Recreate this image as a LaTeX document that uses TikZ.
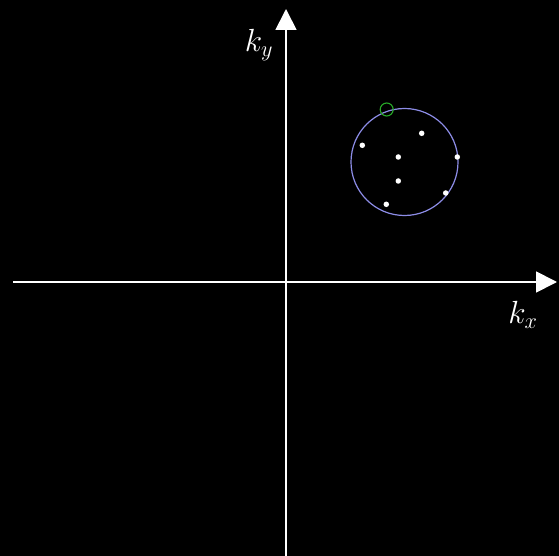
\documentclass[tikz,border=0pt]{standalone}
\usepackage{graphicx}
\usetikzlibrary{arrows.meta}
\begin{document}
\begin{tikzpicture}[x=1bp,y=-1bp,
  axis/.style={draw=white,line width=1.8bp,-{Triangle[length=21bp,width=21bp]}},
  ptdot/.style={circle,fill=white,inner sep=0pt,minimum size=5.5bp},
  lbl/.style={text=white,font=\huge,inner sep=0pt}]
\fill[black] (0,0) rectangle (559,556);
\useasboundingbox (0,0) rectangle (559,556);
\coordinate (xs) at (13,282);
\coordinate (xe) at (557,282);
\coordinate (ys) at (286,556);
\coordinate (ye) at (286,9);
\draw[axis] (xs) -- (xe);
\draw[axis] (ys) -- (ye);
\node[lbl] (kx) at (523,315) {\scalebox{1.55}{$k_x$}};
\node[lbl] (ky) at (259,45) {\scalebox{1.55}{$k_y$}};
\node[circle,draw={rgb,255:red,140;green,140;blue,230},line width=1.2bp,minimum size=107bp,inner sep=0pt] (fs) at (404.5,162) {};
\node[circle,draw={rgb,255:red,40;green,170;blue,40},line width=1.1bp,minimum size=13bp,inner sep=0pt] (g) at (386.7,109.5) {};
\node[ptdot] (p1) at (421.7,133.3) {};
\node[ptdot] (p2) at (362.3,145.3) {};
\node[ptdot] (p3) at (398.3,157) {};
\node[ptdot] (p4) at (457.3,157) {};
\node[ptdot] (p5) at (398.3,181) {};
\node[ptdot] (p6) at (445.7,193) {};
\node[ptdot] (p7) at (386.3,204.3) {};
\end{tikzpicture}
\end{document}
